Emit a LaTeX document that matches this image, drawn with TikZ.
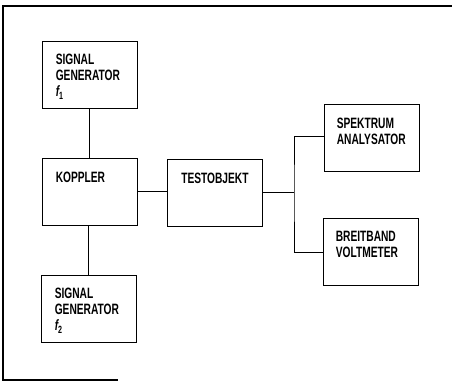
\documentclass[tikz,border=0pt]{standalone}
\usepackage{fontspec}
\usetikzlibrary{positioning,calc}
\newfontfamily\blkfont[FakeStretch=0.68]{Liberation Sans}
\tikzset{
  blk/.style={draw, line width=0.8pt, minimum width=95pt, minimum height=67pt, inner sep=0pt},
  lbl/.style={anchor=north west, inner sep=0pt, align=left, font=\blkfont\bfseries\fontsize{15}{16}\selectfont},
  wire/.style={line width=0.8pt}}

\begin{document}
\begin{tikzpicture}[x=1pt, y=-1pt]
\useasboundingbox (0,0) rectangle (452,381);
\draw[line width=1.1pt] (452,6) -- (3,6) -- (3,380) -- (118,380);
\node[blk] (sg1) at (89.5,75) {};
\node[blk] (kop) at (89.5,191.5) {};
\node[blk] (sg2) at (88.5,309) {};
\node[blk] (test) at (215,192.5) {};
\node[blk] (spek) at (371.5,138) {};
\node[blk] (breit) at (370.5,252) {};
\node[lbl] (sg1t) at ($(sg1.north west)+(14,13)$) {SIGNAL\\GENERATOR\\{\itshape f}\textsubscript{1}};
\node[lbl] (kopt) at ($(kop.north west)+(14,14)$) {KOPPLER};
\node[lbl] (sg2t) at ($(sg2.north west)+(14,13)$) {SIGNAL\\GENERATOR\\{\itshape f}\textsubscript{2}};
\node[lbl] (testt) at ($(test.north west)+(14,14)$) {TESTOBJEKT};
\node[lbl] (spekt) at ($(spek.north west)+(13,14)$) {SPEKTRUM\\ANALYSATOR};
\node[lbl] (breitt) at ($(breit.north west)+(13,13)$) {BREITBAND\\VOLTMETER};
\coordinate (junc) at (294,192);
\draw[wire] (sg1.south) -- (kop.north);
\draw[wire] (sg2.north) -- (sg2.north |- kop.south);
\draw[wire] (kop.east) -- (kop.east -| test.west);
\draw[wire] (test.east |- junc) -- (junc);
\draw[wire] (spek.west) ++(0,-2) -| (junc) |- (breit.west);
\end{tikzpicture}
\end{document}
